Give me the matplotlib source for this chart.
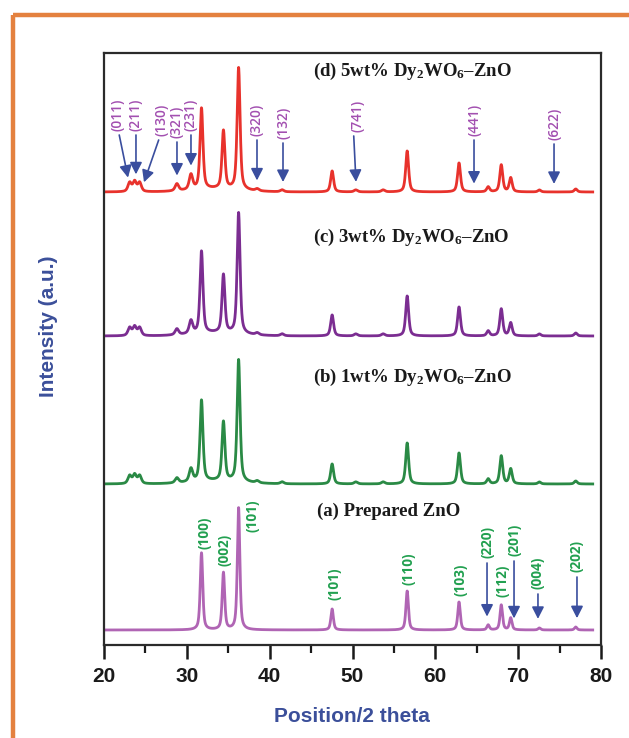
import numpy as np
import matplotlib
matplotlib.use("Agg")
import matplotlib.pyplot as plt
from matplotlib.lines import Line2D

plt.rcParams['mathtext.fontset'] = 'custom'
plt.rcParams['mathtext.rm'] = 'Liberation Serif:bold'
plt.rcParams['mathtext.it'] = 'Liberation Serif:bold'
plt.rcParams['mathtext.bf'] = 'Liberation Serif:bold'

# ---------------- data ----------------
# ZnO wurtzite reflections (2theta) and heights (px units) per sample
zno_pos = [31.77, 34.42, 36.25, 47.54, 56.60, 62.86, 66.38, 67.96, 69.10, 72.56, 76.95]
h_a = [77, 57, 122, 21, 39, 28, 5, 25, 12, 2, 3]
h_b = [81, 59, 122, 20, 41, 31, 5, 28, 15, 2, 3]
h_c = [82, 58, 121, 21, 40, 29, 5, 27, 13, 2, 3]
h_d = [81, 58, 122, 21, 41, 29, 5, 27, 14, 2, 3]

# Dy2WO6 reflections seen in doped samples
dy_pos = [23.1, 23.7, 24.3, 28.8, 30.5, 38.5, 41.5, 50.4, 53.7]
dy_b = [8, 9, 8, 5, 13, 2, 2, 2, 2]
dy_c = [8, 9, 8, 6, 13, 2, 2, 2, 2]
dy_d = [9, 10, 9, 7, 15, 2, 2, 2, 2]
# weak broad background hump under the main peaks of the doped samples
hump_h = [0, 3, 3, 3]

sample_labels = ["(a) Prepared ZnO",
                 "(b) 1wt% Dy$_2$WO$_6$–ZnO",
                 "(c) 3wt% Dy$_2$WO$_6$–ZnO",
                 "(d) 5wt% Dy$_2$WO$_6$–ZnO"]

# hkl labels: ZnO (bottom) and Dy2WO6 (top)
zno_hkl = ["(100)", "(002)", "(101)", "(101)", "(110)", "(103)",
           "(220)", "(112)", "(201)", "(004)", "(202)"]
zno_hkl_x = [32.19, 34.49, 37.87, 47.77, 56.82, 62.98, 66.24, 68.05, 69.50, 72.39, 77.10]
zno_hkl_arrow = [False, False, False, False, False, False, True, False, True, True, True]

dy_hkl = ["(011)", "(211)", "(130)", "(321)", "(231)", "(320)", "(132)", "(741)", "(441)", "(622)"]
dy_hkl_x = [21.69, 23.86, 27.00, 28.81, 30.50, 38.47, 41.61, 50.55, 64.67, 74.33]
dy_tip_x = [22.90, 23.86, 24.83, 28.81, 30.50, 38.47, 41.61, 50.42, 64.67, 74.33]

xticks = [20, 30, 40, 50, 60, 70, 80]

# ---------------- layout / style ----------------
W, H = 629, 738
fig = plt.figure(figsize=(W / 100, H / 100), dpi=100)
fig.patch.set_facecolor('white')

# orange frame
fig.add_artist(Line2D([13 / W, 13 / W], [0, 1 - 15 / H], transform=fig.transFigure,
                      color='#e4813f', lw=3.2, solid_capstyle='butt'))
fig.add_artist(Line2D([13 / W, 1], [1 - 15 / H, 1 - 15 / H], transform=fig.transFigure,
                      color='#e4813f', lw=3.2, solid_capstyle='butt'))

ax = fig.add_axes([104 / W, (H - 645) / H, 497 / W, 592 / H])
ax.set_xlim(20, 80)
ax.set_ylim(0, 592)   # y in pixel-like units above bottom spine

x = np.linspace(20, 79, 3000)


def pv(x, c, h, w, eta=0.6):
    g = np.exp(-4 * np.log(2) * ((x - c) / w) ** 2)
    l = 1.0 / (1 + 4 * ((x - c) / w) ** 2)
    return h * (eta * l + (1 - eta) * g)


def pattern(zh, dh=None, hump=0, w=0.36, wd=0.5):
    y = np.zeros_like(x)
    for c, h in zip(zno_pos, zh):
        y += pv(x, c, h, w)
    if dh is not None:
        for c, h in zip(dy_pos, dh):
            y += pv(x, c, h, wd)
    if hump:
        y += hump * np.exp(-0.5 * ((x - 33.5) / 3.0) ** 2)
    return y


offsets = [15, 161, 309, 453]
colors = ['#b065b4', '#2a8a45', '#7b2d91', '#e8322c']
ys = [pattern(h_a, w=0.36),
      pattern(h_b, dy_b, hump_h[1], w=0.42),
      pattern(h_c, dy_c, hump_h[2], w=0.42),
      pattern(h_d, dy_d, hump_h[3], w=0.42)]
curves = []
for off, col, yy in zip(offsets, colors, ys):
    ax.plot(x, yy + off, color=col, lw=2.0)
    curves.append(yy + off)

# sample labels
label_pos = [(45.7, 134), (45.2, 268), (45.2, 408), (45.2, 574)]
for (lx, ly), s in zip(label_pos, sample_labels):
    ax.text(lx, ly, s, family='Liberation Serif', weight='bold', fontsize=13.5,
            ha='left', va='center', color='#1a1a1a')

arrow_col = '#3a4e9e'
aprops = dict(arrowstyle='-|>,head_length=0.55,head_width=0.28', color=arrow_col,
              lw=1.2, mutation_scale=13, shrinkA=0, shrinkB=0)

# ZnO hkl labels (green)
zno_label_y = [112, 95, 129, 61, 76, 65, 103, 64, 105, 72, 89]
for s, lx, ly, has_arrow in zip(zno_hkl, zno_hkl_x, zno_label_y, zno_hkl_arrow):
    ax.text(lx, ly, s, rotation=90, ha='center', va='center', fontsize=9.8,
            family='Open Sans', weight='bold', color='#22a050')
    if has_arrow:
        yc = np.interp(lx, x, curves[0])
        ax.annotate('', xy=(lx, yc + 10), xytext=(lx, ly - 21), arrowprops=aprops)

# Dy2WO6 hkl labels (purple)
dy_label_y = [530, 530, 525, 523, 530, 525, 522, 529, 525, 521]
for s, lx, ly, tx in zip(dy_hkl, dy_hkl_x, dy_label_y, dy_tip_x):
    ax.text(lx, ly, s, rotation=90, ha='center', va='center', fontsize=9.8,
            family='Open Sans', weight='semibold', color='#a24fb0')
    yc = np.interp(tx, x, curves[3])
    start_x = lx + (0.15 if tx > lx else (-0.4 if tx < lx else 0))
    ax.annotate('', xy=(tx, yc + 8), xytext=(start_x, ly - 20), arrowprops=aprops)

# axes styling
for sp in ax.spines.values():
    sp.set_color('#2b2b2b')
    sp.set_linewidth(1.6)
ax.set_yticks([])
ax.set_xticks(xticks)
ax.set_xticks([25, 35, 45, 55, 65, 75], minor=True)
ax.tick_params(axis='x', which='major', direction='out', length=10, width=1.8,
               labelsize=15, pad=6, colors='#1a1a1a')
ax.tick_params(axis='x', which='minor', direction='out', length=6, width=1.6, colors='#1a1a1a')
for t in ax.get_xticklabels():
    t.set_fontfamily('Liberation Sans')
    t.set_fontweight('bold')
ax.set_facecolor('white')

fig.text(352 / W, 1 - 716 / H, 'Position/2 theta', ha='center', va='center',
         family='Liberation Sans', weight='bold', fontsize=15, color='#3b4f9a')
fig.text(48 / W, 1 - 326 / H, 'Intensity (a.u.)', ha='center', va='center', rotation=90,
         family='Liberation Sans', weight='bold', fontsize=15, color='#3b4f9a')

fig.savefig('out.png', dpi=100)
